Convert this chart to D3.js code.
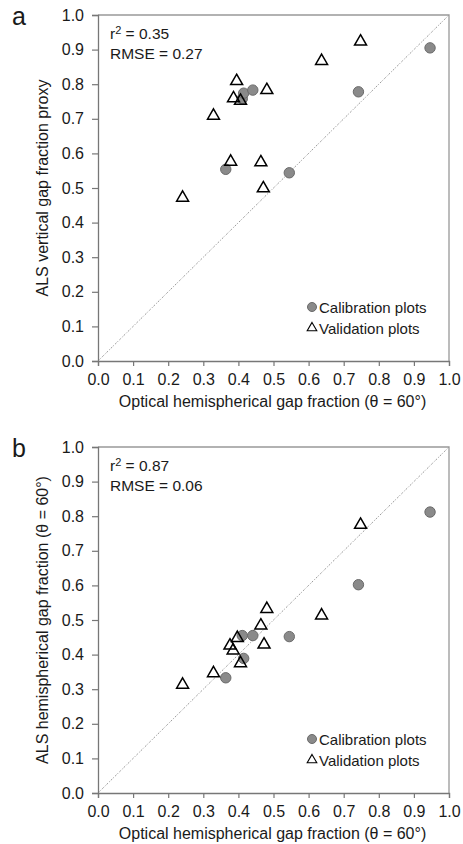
<!DOCTYPE html>
<meta charset="utf-8">
<script src="https://d3js.org/d3.v7.min.js"></script>
<style>
  body { margin: 0; background: #fff; }
  text { font-family: 'Liberation Sans', Arial, sans-serif; fill: #1a1a1a; }
</style>
<body>
<div id="chart"></div>
<script>

// calibration plots (circles)
var calX  = [0.364, 0.411, 0.415, 0.441, 0.545, 0.742, 0.946];
var calYa = [0.554, 0.758, 0.774, 0.783, 0.544, 0.778, 0.905];
var calYb = [0.333, 0.455, 0.389, 0.455, 0.452, 0.602, 0.812];

// validation plots (triangles)
var valX  = [0.241, 0.329, 0.378, 0.386, 0.395, 0.406, 0.464, 0.471, 0.481, 0.637, 0.748];
var valYa = [0.472, 0.709, 0.576, 0.759, 0.809, 0.752, 0.574, 0.499, 0.783, 0.867, 0.923];
// panel b, x positions
var valXb = [0.376, 0.329, 0.385, 0.397, 0.406, 0.241, 0.464, 0.473, 0.481, 0.637, 0.748];
var valYb = [0.426, 0.346, 0.412, 0.448, 0.375, 0.313, 0.484, 0.429, 0.532, 0.513, 0.775];

var ticks = [0, 0.1, 0.2, 0.3, 0.4, 0.5, 0.6, 0.7, 0.8, 0.9, 1.0];

var panels = [
  {letter: "a", top: 15, ytitle: "ALS vertical gap fraction proxy",
   r2: "0.35", rmse: "0.27", calY: calYa, valX: valX, valY: valYa},
  {letter: "b", top: 447, ytitle: "ALS hemispherical gap fraction (\u03b8 = 60\u00b0)",
   r2: "0.87", rmse: "0.06", calY: calYb, valX: valXb, valY: valYb}
];

var W = 463, H = 844;
var left = 98, pw = 351, ph = 346;

var svg = d3.select("#chart").append("svg")
  .attr("width", W).attr("height", H);

var tri = d3.symbol().type(d3.symbolTriangle).size(62);
var triSmall = d3.symbol().type(d3.symbolTriangle).size(40);

panels.forEach(function(p) {
  var g = svg.append("g").attr("transform", "translate(" + left + "," + p.top + ")");

  var x = d3.scaleLinear().domain([0, 1]).range([0, pw]);
  var y = d3.scaleLinear().domain([0, 1]).range([ph, 0]);

  // frame: top + right lighter
  g.append("path")
    .attr("d", "M0,0H" + pw + "V" + ph)
    .attr("fill", "none").attr("stroke", "#999").attr("stroke-width", 1.3);

  // 1:1 line
  g.append("line")
    .attr("x1", x(0)).attr("y1", y(0)).attr("x2", x(1)).attr("y2", y(1))
    .attr("stroke", "#999").attr("stroke-width", 1)
    .attr("stroke-dasharray", "2,1.5,1,1.5");

  var xAxis = g.append("g").attr("transform", "translate(0," + ph + ")")
    .call(d3.axisBottom(x).tickValues(ticks).tickFormat(d3.format(".1f")).tickSize(5).tickPadding(5));
  var yAxis = g.append("g")
    .call(d3.axisLeft(y).tickValues(ticks).tickFormat(d3.format(".1f")).tickSize(6).tickPadding(8));

  [xAxis, yAxis].forEach(function(a) {
    a.select(".domain").attr("stroke", "#777").attr("stroke-width", 1.3);
    a.selectAll(".tick line").attr("stroke", "#777").attr("stroke-width", 1.2);
    a.selectAll(".tick text").style("font-size", "16px")
      .style("font-family", "'Liberation Sans', Arial, sans-serif").attr("fill", "#1a1a1a");
  });
  xAxis.selectAll(".tick text").attr("dy", "0.85em");

  // axis titles
  g.append("text")
    .attr("x", pw / 2 - 1).attr("y", ph + 46)
    .attr("text-anchor", "middle").style("font-size", "16px")
    .text("Optical hemispherical gap fraction (\u03b8 = 60\u00b0)");

  g.append("text")
    .attr("transform", "translate(" + (-50) + "," + (ph / 2) + ") rotate(-90)")
    .attr("text-anchor", "middle").style("font-size", "16px")
    .text(p.ytitle);

  // panel letter
  g.append("text")
    .attr("x", -86).attr("y", 10)
    .style("font-size", "25px")
    .text(p.letter);

  // stats
  var st = g.append("text").attr("x", 12).attr("y", 24).style("font-size", "15.5px");
  st.append("tspan").text("r");
  st.append("tspan").attr("dy", -5).style("font-size", "11px").text("2");
  st.append("tspan").attr("dy", 5).text(" = " + p.r2);
  g.append("text").attr("x", 12).attr("y", 44).style("font-size", "15.5px")
    .text("RMSE = " + p.rmse);

  // calibration circles
  g.selectAll(".cal")
    .data(calX.map(function(v, i) { return [v, p.calY[i]]; }))
    .enter().append("circle")
    .attr("cx", function(d) { return x(d[0]); })
    .attr("cy", function(d) { return y(d[1]); })
    .attr("r", 5.2)
    .attr("fill", "#8a8a8a").attr("stroke", "#6a6a6a").attr("stroke-width", 1);

  // validation triangles
  g.selectAll(".val")
    .data(p.valX.map(function(v, i) { return [v, p.valY[i]]; }))
    .enter().append("path")
    .attr("d", tri)
    .attr("transform", function(d) { return "translate(" + x(d[0]) + "," + y(d[1]) + ")"; })
    .attr("fill", "none").attr("stroke", "#000").attr("stroke-width", 1.5);

  // legend
  var lg = g.append("g").attr("transform", "translate(" + 214 + "," + (ph - 54) + ")");
  lg.append("circle").attr("cx", 0).attr("cy", 0).attr("r", 4.5)
    .attr("fill", "#8a8a8a").attr("stroke", "#6a6a6a");
  lg.append("text").attr("x", 7).attr("y", 5.5).style("font-size", "15px").text("Calibration plots");
  lg.append("path").attr("d", triSmall).attr("transform", "translate(0,21)")
    .attr("fill", "none").attr("stroke", "#000").attr("stroke-width", 1.1);
  lg.append("text").attr("x", 7).attr("y", 26.5).style("font-size", "15px").text("Validation plots");
});

</script>
</body>
